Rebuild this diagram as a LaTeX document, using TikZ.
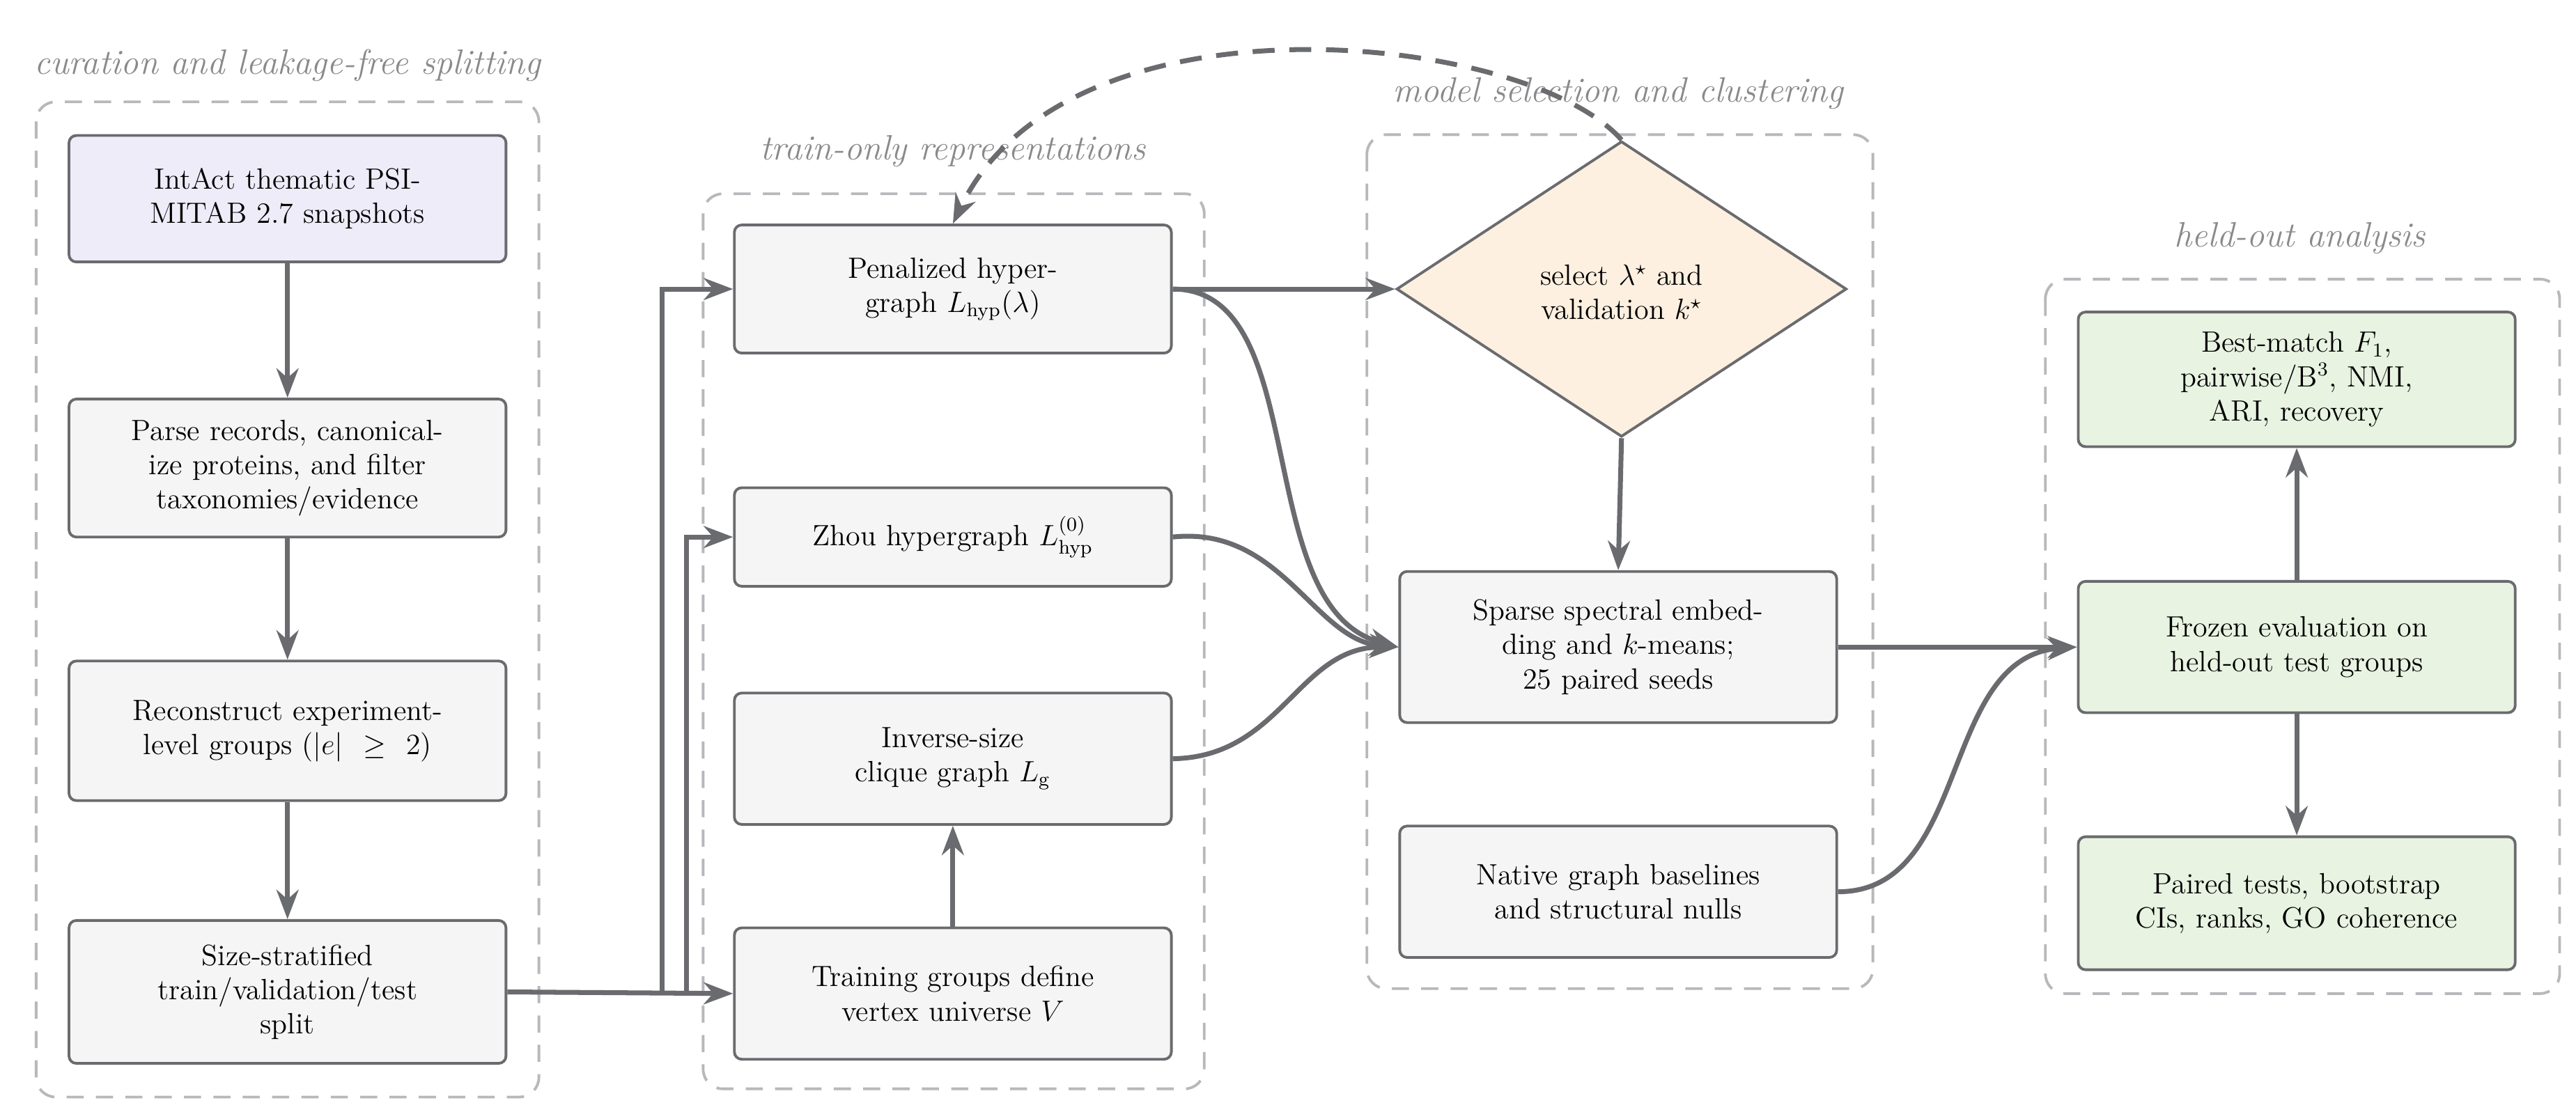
\documentclass[tikz,border=0pt]{standalone}
\usepackage{amsmath}
\usetikzlibrary{shapes.geometric,arrows.meta}
\definecolor{bd}{HTML}{6A6B6E}
\definecolor{bx}{HTML}{F5F5F5}
\definecolor{lav}{HTML}{EEECF8}
\definecolor{org}{HTML}{FDF0E0}
\definecolor{grn}{HTML}{E8F3E2}
\definecolor{dg}{HTML}{B8B8BC}
\definecolor{tg}{HTML}{8A8A8C}
\begin{document}
\begin{tikzpicture}[x=0.0236cm,y=-0.0236cm,
 box/.style={draw=bd,line width=1.1pt,fill=bx,rounded corners=3pt,minimum width=266*0.0236cm,text width=5.6cm,align=center,inner sep=2pt,font=\large},
 grp/.style={draw=dg,line width=1.1pt,dash pattern=on 7pt off 5pt,rounded corners=8pt},
 ttl/.style={text=tg,font=\Large\itshape},
 arr/.style={draw=bd,line width=2pt,-{Stealth[length=12pt,width=9pt]}},
 ln/.style={draw=bd,line width=2pt}]
\useasboundingbox (0,0) rectangle (1568,681);
% groups
\draw[grp] (22,62) rectangle (328,668);
\node[ttl] at (175,40) {curation and leakage-free splitting};
\draw[grp] (428,118) rectangle (733,663);
\node[ttl] at (580,92) {train-only representations};
\draw[grp] (832,82) rectangle (1140,602);
\node[ttl] at (985,57) {model selection and clustering};
\draw[grp] (1245,170) rectangle (1558,605);
\node[ttl] at (1400,145) {held-out analysis};
% column 1
\node[box,fill=lav,minimum height=77*0.0236cm] (a1) at (175,121) {IntAct thematic PSI-\\MITAB 2.7 snapshots};
\node[box,minimum height=84*0.0236cm] (a2) at (175,285) {Parse records, canonical-\\ize proteins, and filter\\taxonomies/evidence};
\node[box,minimum height=85*0.0236cm] (a3) at (175,445) {Reconstruct experiment-\\level groups ($|e|\,\geq\,2$)};
\node[box,minimum height=87*0.0236cm] (a4) at (175,604) {Size-stratified\\train/validation/test\\split};
% column 2
\node[box,minimum height=78*0.0236cm] (b1) at (580,176) {Penalized hyper-\\graph $L_{\mathrm{hyp}}(\lambda)$};
\node[box,minimum height=60*0.0236cm] (b2) at (580,327) {Zhou hypergraph $L^{(0)}_{\mathrm{hyp}}$};
\node[box,minimum height=80*0.0236cm] (b3) at (580,462) {Inverse-size\\clique graph $L_{\mathrm{g}}$};
\node[box,minimum height=80*0.0236cm] (b4) at (580,605) {Training groups define\\vertex universe $V$};
% column 3
\node[diamond,draw=bd,line width=1.1pt,fill=org,minimum width=274*0.0236cm,minimum height=180*0.0236cm,aspect=1.5,inner sep=0pt,align=center,font=\large] (c1) at (987,176) {};
\node[align=center,font=\large] at (987,178) {select $\lambda^\star$ and\\validation $k^\star$};
\node[box,minimum height=92*0.0236cm] (c2) at (985,394) {Sparse spectral embed-\\ding and $k$-means;\\25 paired seeds};
\node[box,minimum height=80*0.0236cm] (c3) at (985,543) {Native graph baselines\\and structural nulls};
% column 4
\node[box,fill=grn,minimum height=82*0.0236cm] (d1) at (1398,231) {Best-match $F_1$,\\pairwise/B$^3$, NMI,\\ARI, recovery};
\node[box,fill=grn,minimum height=80*0.0236cm] (d2) at (1398,394) {Frozen evaluation on\\held-out test groups};
\node[box,fill=grn,minimum height=81*0.0236cm] (d3) at (1398,550) {Paired tests, bootstrap\\CIs, ranks, GO coherence};
% arrows col1
\draw[arr] (a1) -- (a2);
\draw[arr] (a2) -- (a3);
\draw[arr] (a3) -- (a4);
% split to col2
\coordinate (s1) at (403,604);
\coordinate (s2) at (418,604);
\draw[arr] (a4.east) -- (b4.west);
\draw[arr] (s1) |- (b1.west);
\draw[arr] (s2) |- (b2.west);
\draw[arr] (b4) -- (b3);
% to col3
\draw[arr] (b1.east) -- (c1.west);
\draw[arr] (b1.east) .. controls (800,176) and (760,370) .. (c2.west);
\draw[arr] (b2.east) .. controls (780,320) and (800,390) .. (c2.west);
\draw[arr] (b3.east) .. controls (780,461) and (790,394) .. (c2.west);
\draw[arr] (c1.south) -- (c2.north);
\draw[arr] (c2.east) -- (d2.west);
\draw[arr] (c3.east) .. controls (1200,543) and (1180,400) .. (d2.west);
\draw[arr] (d2) -- (d1);
\draw[arr] (d2) -- (d3);
% feedback
\draw[bd,line width=2pt,dash pattern=on 9pt off 6pt,-{Stealth[length=12pt,width=9pt]}] (c1.north) .. controls (930,20) and (650,-10) .. (b1.north);
\end{tikzpicture}
\end{document}
